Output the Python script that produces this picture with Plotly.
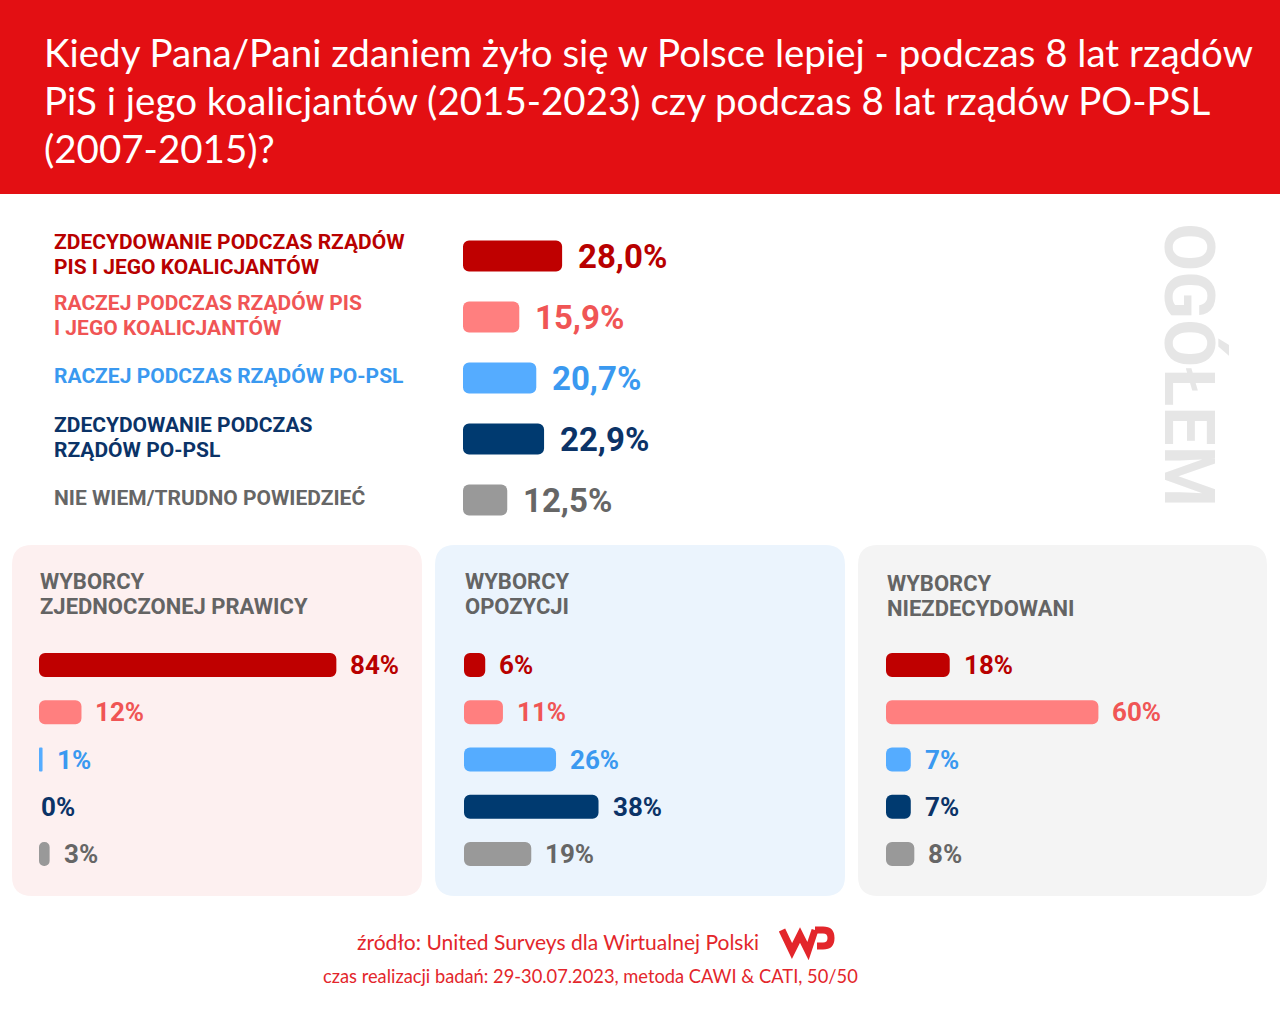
import plotly.graph_objects as go

W, H = 1280, 1013

# ---------------- data ----------------
title_lines = [
    "Kiedy Pana/Pani zdaniem żyło się w Polsce lepiej - podczas 8 lat rządów",
    "PiS i jego koalicjantów (2015-2023) czy podczas 8 lat rządów PO-PSL",
    "(2007-2015)?",
]
categories = [
    "ZDECYDOWANIE PODCZAS RZĄDÓW<br>PIS I JEGO KOALICJANTÓW",
    "RACZEJ PODCZAS RZĄDÓW PIS<br>I JEGO KOALICJANTÓW",
    "RACZEJ PODCZAS RZĄDÓW PO-PSL",
    "ZDECYDOWANIE PODCZAS<br>RZĄDÓW PO-PSL",
    "NIE WIEM/TRUDNO POWIEDZIEĆ",
]
overall = [28.0, 15.9, 20.7, 22.9, 12.5]

group_titles = [
    "WYBORCY<br>ZJEDNOCZONEJ PRAWICY",
    "WYBORCY<br>OPOZYCJI",
    "WYBORCY<br>NIEZDECYDOWANI",
]
right_voters = [84, 12, 1, 0, 3]
opposition_voters = [6, 11, 26, 38, 19]
undecided_voters = [18, 60, 7, 7, 8]

side_label = "OGÓŁEM"
source_line = "źródło: United Surveys dla Wirtualnej Polski"
method_line = "czas realizacji badań: 29-30.07.2023, metoda CAWI & CATI, 50/50"

# ---------------- style ----------------
bar_colors = ["#BF0000", "#FF7F7F", "#55ACFF", "#003A70", "#999999"]
text_colors = ["#B80000", "#F05555", "#3A99F0", "#0B3367", "#666666"]
panel_colors = ["#FDF0F0", "#EBF4FD", "#F4F4F4"]
RED = "#E30F13"
FOOT_RED = "#E3262B"
PX_PER_100 = 354  # pixel length of 100 %


def px(x):
    return x / W


def py(y):
    return 1 - y / H


def pts(x, y):
    return f"{px(x):.5f},{py(y):.5f}"


def rrect(x0, y0, x1, y1, r):
    return (f"M {pts(x0 + r, y0)} L {pts(x1 - r, y0)} Q {pts(x1, y0)} {pts(x1, y0 + r)} "
            f"L {pts(x1, y1 - r)} Q {pts(x1, y1)} {pts(x1 - r, y1)} "
            f"L {pts(x0 + r, y1)} Q {pts(x0, y1)} {pts(x0, y1 - r)} "
            f"L {pts(x0, y0 + r)} Q {pts(x0, y0)} {pts(x0 + r, y0)} Z")


fig = go.Figure()
layout = dict(
    width=W, height=H, margin=dict(l=0, r=0, t=0, b=0),
    paper_bgcolor="white", plot_bgcolor="rgba(0,0,0,0)",
    showlegend=False, barmode="overlay",
)
annotations = []
shapes = []

# header band
shapes.append(dict(type="rect", xref="paper", yref="paper", x0=0, x1=1, y0=py(194), y1=1,
                   fillcolor=RED, line=dict(width=0), layer="below"))
for i, line in enumerate(title_lines):
    annotations.append(dict(text=line, xref="paper", yref="paper", x=px(42), y=py(52 + 48 * i),
                            xanchor="left", yanchor="middle", showarrow=False,
                            font=dict(family="Lato", size=38.5, color="white")))

# panels background
panel_x = [(12, 422), (435, 845), (858, 1267)]
for (x0, x1), c in zip(panel_x, panel_colors):
    shapes.append(dict(type="path", xref="paper", yref="paper", path=rrect(x0, 545, x1, 896, 20),
                       fillcolor=c, line=dict(width=0), layer="below"))


def make_axes(n, x0px, y0px, y1px):
    sfx = "" if n == 1 else str(n)
    layout["xaxis" + sfx] = dict(domain=[px(x0px), px(x0px + PX_PER_100)], range=[0, 100],
                                 visible=False, fixedrange=True, anchor="y" + sfx)
    layout["yaxis" + sfx] = dict(domain=[py(y1px), py(y0px)], range=[4.5, -0.5],
                                 type="category", categoryorder="array", categoryarray=categories,
                                 visible=False, fixedrange=True, anchor="x" + sfx)
    return "x" + sfx, "y" + sfx


def add_rounded_bars(values, xa, ya):
    # an explicit base makes plotly round both ends of each bar
    fig.add_trace(go.Bar(x=values, base=[0] * len(values), y=categories, orientation="h",
                         width=0.51, xaxis=xa, yaxis=ya, hoverinfo="skip",
                         marker=dict(color=bar_colors, line=dict(width=0), cornerradius=6)))


# ---- overall section ----
xa, ya = make_axes(1, 463, 225.5, 530.5)
add_rounded_bars(overall, xa, ya)
for cat, v, tc in zip(categories, overall, text_colors):
    annotations.append(dict(text=f"{v:.1f}%".replace(".", ","), x=v, y=cat, xref=xa, yref=ya,
                            xanchor="left", yanchor="middle", xshift=14, showarrow=False,
                            font=dict(family="Roboto", size=33, color=tc, weight="bold")))
    lines = cat.split("<br>")
    for j, ln in enumerate(lines):
        shift = (len(lines) - 1) * 12.5 - 25 * j
        annotations.append(dict(text=ln, x=px(52), y=cat, xref="paper", yref=ya,
                                xanchor="left", yanchor="middle", yshift=shift + 2, showarrow=False,
                                font=dict(family="Roboto", size=21, color=tc, weight="bold")))

annotations.append(dict(text=side_label, x=px(1189), y=py(365), xref="paper", yref="paper",
                        textangle=90, showarrow=False, xanchor="center", yanchor="middle",
                        font=dict(family="Roboto", size=70, color="#E6E6E6", weight="bold")))

# ---- group panels ----
group_values = [right_voters, opposition_voters, undecided_voters]
bar_start = [39, 464, 886]
for g, (vals, x0, gt) in enumerate(zip(group_values, bar_start, group_titles)):
    xa, ya = make_axes(g + 2, x0, 641.4, 877.6)
    add_rounded_bars(vals, xa, ya)
    for cat, v, tc in zip(categories, vals, text_colors):
        annotations.append(dict(text=f"{v}%", x=v, y=cat, xref=xa, yref=ya,
                                xanchor="left", yanchor="middle", xshift=12 if v > 0 else 0,
                                showarrow=False,
                                font=dict(family="Roboto", size=26, color=tc, weight="bold")))
    for j, ln in enumerate(gt.split("<br>")):
        annotations.append(dict(text=ln, x=px(x0 - 1), y=py(581 + 25 * j + (2 if g == 2 else 0)),
                                xref="paper", yref="paper", xanchor="left", yanchor="middle",
                                showarrow=False,
                                font=dict(family="Roboto", size=22, color="#646464", weight="bold")))

# ---- footer ----
annotations.append(dict(text=source_line, x=px(558), y=py(941), xref="paper", yref="paper",
                        xanchor="center", yanchor="middle", showarrow=False,
                        font=dict(family="Lato", size=21, color=FOOT_RED)))
annotations.append(dict(text=method_line, x=px(590), y=py(976), xref="paper", yref="paper",
                        xanchor="center", yanchor="middle", showarrow=False,
                        font=dict(family="Lato", size=18.3, color=FOOT_RED)))

logo_w = f"M {pts(782, 930)} L {pts(792, 951)} L {pts(800, 935)} L {pts(808, 951)} L {pts(815, 930)}"
logo_p = (f"M {pts(815, 930)} L {pts(823, 930)} Q {pts(831, 930)} {pts(831, 938)} "
          f"Q {pts(831, 946)} {pts(823, 946)} L {pts(817, 946)}")
for p in (logo_w, logo_p):
    shapes.append(dict(type="path", xref="paper", yref="paper", path=p,
                       line=dict(color=FOOT_RED, width=7), fillcolor="rgba(0,0,0,0)"))

layout["annotations"] = annotations
layout["shapes"] = shapes
fig.update_layout(**layout)
fig.write_html("out.html", post_script="document.body.style.margin='0';",
               config={"displayModeBar": False})
